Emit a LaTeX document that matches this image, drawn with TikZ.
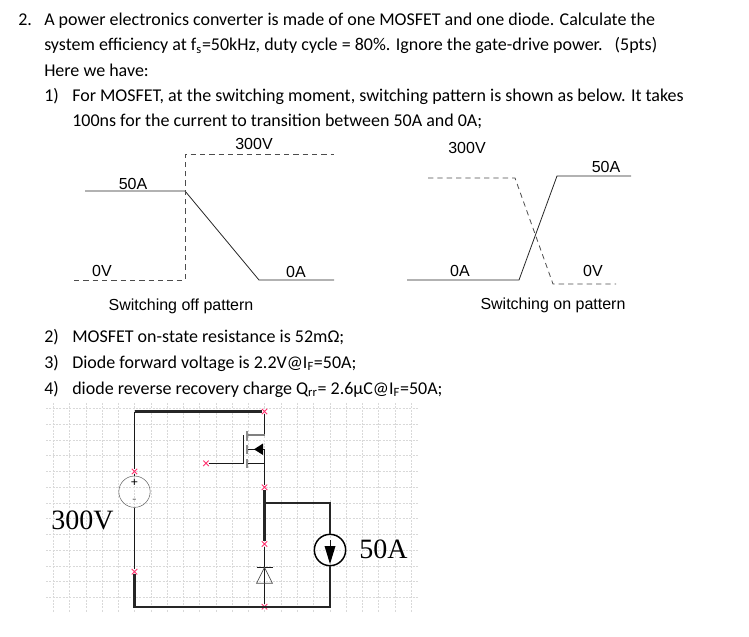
\documentclass[tikz,border=0pt]{standalone}
\usepackage{fontspec}
\usepackage{tikz}
\usetikzlibrary{shapes.misc}
\setmainfont{Carlito}
\newfontfamily\labelfont{Liberation Sans}
\newfontfamily\circfont{Liberation Serif}
\newcommand{\lineno}[2]{\makebox[#1][l]{#2}}
\tikzset{
  textline/.style={anchor=base west,inner sep=0pt,font=\fontsize{13.5}{16}\selectfont},
  wavelabel/.style={anchor=base,inner sep=0pt,font=\labelfont\fontsize{12}{14}\selectfont},
  circlabel/.style={anchor=base west,inner sep=0pt,font=\circfont\fontsize{21}{24}\selectfont},
  wave/.style={line width=0.6pt,black!85},
  wavedash/.style={line width=0.6pt,black!70,dash pattern=on 4pt off 3pt},
  gridline/.style={line width=0.5pt,black!15,dash pattern=on 1.5pt off 1pt},
  wire/.style={line width=0.7pt,black!90},
  thickwire/.style={line width=1.7pt,black!85},
  probe/.style={cross out,draw=red!70!magenta!80,line width=0.6pt,minimum size=3.5pt,inner sep=0pt},
  source/.style={circle,draw,minimum size=23.5pt,inner sep=0pt},
}
\begin{document}
\begin{tikzpicture}[x=0.75pt,y=-0.75pt]
  \useasboundingbox (0,0) rectangle (749,636);
  % problem text
  \node [textline] (l1) at (18,25) {\lineno{19.5pt}{2.}A power electronics converter is made of one MOSFET and one diode. Calculate the};
  \node [textline] (l2) at (44,50.5) {system efficiency at f\textsubscript{s}=50kHz, duty cycle = 80\%. Ignore the gate-drive power.\hspace{9pt}(5pts)};
  \node [textline] (l3) at (44,76) {Here we have:};
  \node [textline] (l4) at (44,101.5) {\lineno{21pt}{1)}For MOSFET, at the switching moment, switching pattern is shown as below. It takes};
  \node [textline] (l5) at (72,126.5) {100ns for the current to transition between 50A and 0A;};
  \node [textline] (l6) at (44,342) {\lineno{21pt}{2)}MOSFET on-state resistance is 52mΩ;};
  \node [textline] (l7) at (44,368) {\lineno{21pt}{3)}Diode forward voltage is 2.2V@I\textsubscript{F}=50A;};
  \node [textline] (l8) at (44,394) {\lineno{21pt}{4)}diode reverse recovery charge Q\textsubscript{rr}= 2.6µC@I\textsubscript{F}=50A;};
  % switching off
  \node [wavelabel] (offv) at (254,149) {300V};
  \node [wavelabel] (offi) at (133,189) {50A};
  \node [wavelabel] (offz) at (102,276) {0V};
  \node [wavelabel] (offa) at (296,277) {0A};
  \node [wavelabel] (offt) at (181,310) {Switching off pattern};
  \coordinate (a1) at (85,191);
  \coordinate (a2) at (185,191);
  \coordinate (a3) at (259,280);
  \coordinate (a4) at (334,280);
  \coordinate (b1) at (74,280);
  \coordinate (b2) at (185,280);
  \coordinate (b3) at (185,154);
  \coordinate (b4) at (334,154);
  \draw [wave] (a1) -- (a2) -- (a3) -- (a4);
  \draw [wavedash] (b1) -- (b2) -- (b3) -- (b4);
  % switching on
  \node [wavelabel] (onv) at (467,153) {300V};
  \node [wavelabel] (oni) at (606,172) {50A};
  \node [wavelabel] (onz) at (460,276) {0A};
  \node [wavelabel] (ona) at (593,276) {0V};
  \node [wavelabel] (ont) at (553,309) {Switching on pattern};
  \coordinate (c1) at (407,280);
  \coordinate (c2) at (519,280);
  \coordinate (c3) at (557,176);
  \coordinate (c4) at (631,176);
  \coordinate (d1) at (428,178);
  \coordinate (d2) at (515,178);
  \coordinate (d3) at (553,284);
  \coordinate (d4) at (616,284);
  \draw [wave] (c1) -- (c2) -- (c3) -- (c4);
  \draw [wavedash] (d1) -- (d2) -- (d3) -- (d4);
  % grid
  \foreach \k in {0,...,22}
    \draw [gridline] ({53.3+16.27*\k},403) -- ({53.3+16.27*\k},613);
  \foreach \k in {0,...,12}
    \draw [gridline] (46,{408.3+15.77*\k}) -- (418,{408.3+15.77*\k});
  % circuit
  \node [source,draw=black!60] (vdc) at (134.5,491.7) {};
  \node [source,line width=1.1pt] (idc) at (330,550) {};
  \node [inner sep=0pt,font=\fontsize{10}{10}\selectfont] (vplus) at (134.5,482.5) {+};
  \node [inner sep=0pt,font=\fontsize{10}{10}\selectfont,black!60] (vminus) at (134.5,501.5) {-};
  \node [circlabel] (vtxt) at (51,529) {300V};
  \node [circlabel] (itxt) at (359,558) {50A};
  \node [probe] (p1) at (264.5,411.5) {};
  \node [probe] (p2) at (134.5,471.5) {};
  \node [probe] (p3) at (134.5,571.7) {};
  \node [probe] (p4) at (264.5,487.3) {};
  \node [probe] (p5) at (264.5,544) {};
  \node [probe] (p6) at (264.5,606.7) {};
  \node [probe] (p7) at (206,463.3) {};
  \coordinate (tl) at (134.5,411.5);
  \coordinate (bl) at (134.5,606.7);
  \coordinate (br) at (330,606.7);
  \coordinate (tr) at (330,503);
  \coordinate (mid) at (264.5,503);
  \coordinate (dr) at (264.5,435);
  \coordinate (drb) at (247,435);
  \coordinate (sr) at (264.5,463.3);
  \coordinate (srb) at (247,463.3);
  \coordinate (bd) at (264.5,449.3);
  \coordinate (bdb) at (247,449.3);
  \coordinate (gt) at (243.3,435);
  \coordinate (gb) at (243.3,463.3);
  \coordinate (ka) at (264.5,567.3);
  \coordinate (an) at (264.5,583.3);
  % thick wires
  \draw [thickwire] (tl) -- (p1);
  \draw [wire] (p2) -- (tl);
  \draw [thickwire] (p3) -- (bl) -- (br) -- (idc);
  \draw [thickwire] (p4) -- (p5);
  \draw [thickwire] (mid) -- (tr) -- (idc);
  % thin wires
  \draw [wire] (p2) -- (vdc);
  \draw [wire] (vdc) -- (p3);
  \draw [wire] (p1) -- (dr);
  \draw [black!50,line width=0.9pt] (dr) -- (drb);
  \draw [wire] (p7) -- (gb) -- (gt);
  \draw [wire] (srb) -- (sr) -- (p4);
  \draw [wire] (bdb) -- (bd) -- (sr);
  \draw [wire] (p5) -- (ka);
  \draw [wire] (an) -- (p6);
  \draw [wire] (ka) -- (an);
  % body arrow, channel, diode, source arrow
  \fill [black] (254,449.3) -- (263,443.5) -- (263,455) -- cycle;
  \draw [black!45,line width=1.2pt] (247,431) -- (247,441);
  \draw [black!45,line width=1.2pt] (247,444.5) -- (247,454);
  \draw [black!45,line width=1.2pt] (247,459) -- (247,468);
  \draw [wire] (256.5,567.3) -- (272.5,567.3);
  \draw [black!70,line width=0.5pt] (264.5,567.3) -- (256.5,583.3) -- (272.5,583.3) -- cycle;
  \draw [wire] (330,540) -- (330,548);
  \fill [black] (324.5,546) -- (335.5,546) -- (330,564) -- cycle;
\end{tikzpicture}
\end{document}
